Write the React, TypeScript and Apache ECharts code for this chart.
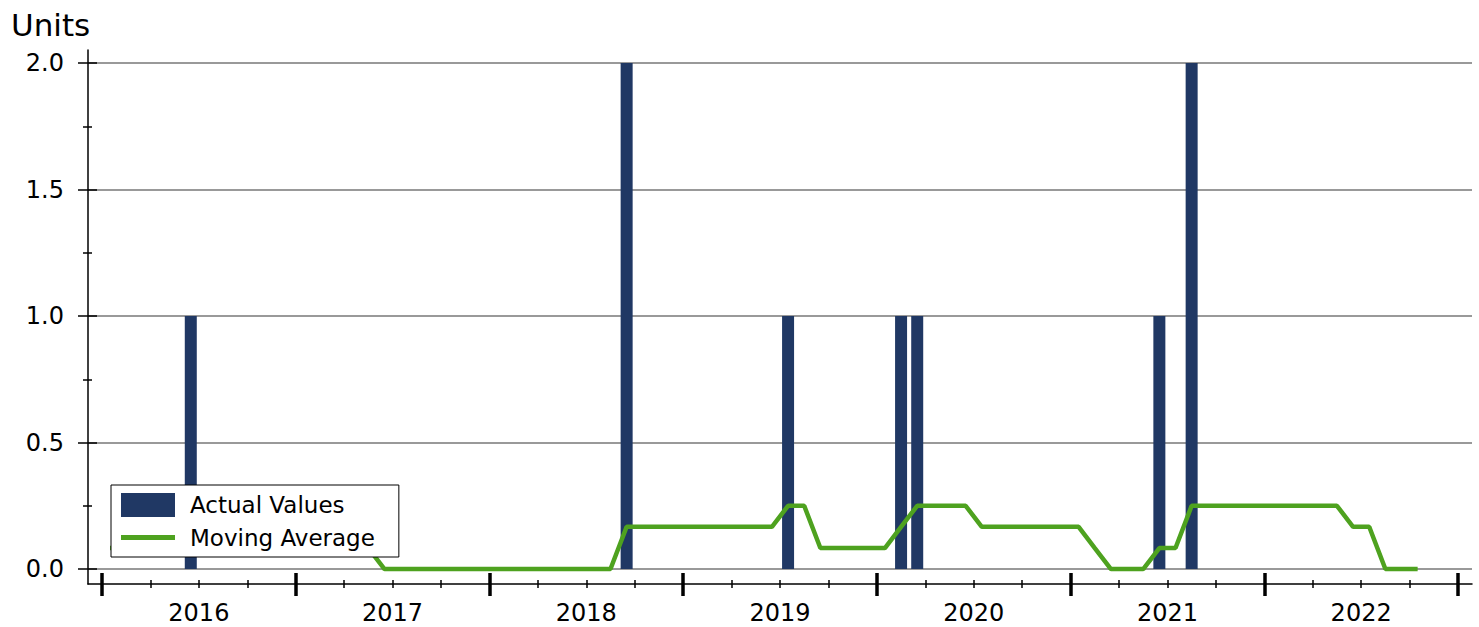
import React, { useEffect, useRef } from "react";
import * as echarts from "echarts";

// Months from Jan 2016 to Oct 2022
const MONTHS: string[] = [
  "2016-01","2016-02","2016-03","2016-04","2016-05","2016-06","2016-07","2016-08","2016-09","2016-10","2016-11","2016-12",
  "2017-01","2017-02","2017-03","2017-04","2017-05","2017-06","2017-07","2017-08","2017-09","2017-10","2017-11","2017-12",
  "2018-01","2018-02","2018-03","2018-04","2018-05","2018-06","2018-07","2018-08","2018-09","2018-10","2018-11","2018-12",
  "2019-01","2019-02","2019-03","2019-04","2019-05","2019-06","2019-07","2019-08","2019-09","2019-10","2019-11","2019-12",
  "2020-01","2020-02","2020-03","2020-04","2020-05","2020-06","2020-07","2020-08","2020-09","2020-10","2020-11","2020-12",
  "2021-01","2021-02","2021-03","2021-04","2021-05","2021-06","2021-07","2021-08","2021-09","2021-10","2021-11","2021-12",
  "2022-01","2022-02","2022-03","2022-04","2022-05","2022-06","2022-07","2022-08","2022-09","2022-10",
];

const ACTUAL: number[] = [
  0,0,0,0,0,1,0,0,0,0,0,0,
  0,0,0,0,0,0,0,0,0,0,0,0,
  0,0,0,0,0,0,0,0,2,0,0,0,
  0,0,0,0,0,0,1,0,0,0,0,0,
  0,1,1,0,0,0,0,0,0,0,0,0,
  0,0,0,0,0,1,0,2,0,0,0,0,
  0,0,0,0,0,0,0,0,0,0,
];

const MOVING_AVG: number[] = [
  0.083,0.083,0.083,0.083,0.083,0.083,0.083,0.083,0.083,0.083,0.083,0.083,
  0.083,0.083,0.083,0.083,0.083,0,0,0,0,0,0,0,
  0,0,0,0,0,0,0,0,0.167,0.167,0.167,0.167,
  0.167,0.167,0.167,0.167,0.167,0.167,0.25,0.25,0.083,0.083,0.083,0.083,
  0.083,0.167,0.25,0.25,0.25,0.25,0.167,0.167,0.167,0.167,0.167,0.167,
  0.167,0.083,0,0,0,0.083,0.083,0.25,0.25,0.25,0.25,0.25,
  0.25,0.25,0.25,0.25,0.25,0.167,0.167,0,0,0,
];

const YEARS: string[] = ["2016", "2017", "2018", "2019", "2020", "2021", "2022"];
const Y_TICKS_MIN = 0;
const Y_TICKS_MAX = 2;

const FONT = "DejaVu Sans";
const BAR_COLOR = "#203864";
const LINE_COLOR = "#4ea21f";

export default function App() {
  const ref = useRef<HTMLDivElement>(null);
  useEffect(() => {
    if (!ref.current) return;
    const chart = echarts.init(ref.current, undefined, { renderer: "svg" });
    const startYear = parseInt(MONTHS[0].slice(0, 4), 10);
    const monthPos = (m: string) =>
      (parseInt(m.slice(0, 4), 10) - startYear) * 12 + parseInt(m.slice(5, 7), 10) - 1 + 0.5;
    const barData = MONTHS.map((m, i) => [monthPos(m), ACTUAL[i]]);
    const lineData = MONTHS.map((m, i) => [monthPos(m), MOVING_AVG[i]]);
    const totalMonths = YEARS.length * 12;

    const hiddenAxis = (gridIndex: number) => ({
      type: "value",
      gridIndex,
      show: false,
      min: 0,
      max: 1,
      axisLine: { show: false, onZero: false },
    });

    const yGrid = { left: 88, right: 7, top: 63, bottom: 58 };
    const xGrid = { left: 102, right: 21, top: 50, bottom: 43 };

    const option: any = {
      animation: false,
      title: {
        text: "Units",
        left: 6,
        top: 4,
        textStyle: { fontFamily: FONT, fontSize: 31, fontWeight: "normal", color: "#000" },
      },
      legend: {
        left: 111,
        top: 485,
        z: 10,
        orient: "vertical",
        backgroundColor: "#fff",
        borderColor: "#000",
        borderWidth: 1,
        borderRadius: 0,
        padding: [8, 24, 8, 10],
        itemWidth: 54,
        itemHeight: 24,
        itemGap: 9,
        textStyle: { fontFamily: FONT, fontSize: 23, color: "#000", padding: [0, 0, 0, 10] },
        data: [
          { name: "Actual Values", icon: "rect", itemStyle: { color: BAR_COLOR } },
          { name: "Moving Average", icon: "path://M0,0H54V5H0Z", itemStyle: { color: LINE_COLOR } },
        ],
      },
      grid: [
        { left: 88, right: 7, top: 50, bottom: 43 },
        yGrid,
        yGrid,
        xGrid,
        xGrid,
        xGrid,
        xGrid,
      ],
      xAxis: [
        {
          type: "value",
          gridIndex: 0,
          min: -0.867,
          max: totalMonths + 0.867,
          axisLine: { show: true, onZero: false, lineStyle: { color: "#000", width: 1.5 } },
          axisTick: { show: false },
          axisLabel: { show: false },
          splitLine: { show: false },
        },
        hiddenAxis(1),
        hiddenAxis(2),
        {
          type: "category",
          gridIndex: 3,
          data: YEARS,
          boundaryGap: true,
          axisLine: { show: false, onZero: false },
          axisTick: { show: true, length: 12, lineStyle: { color: "#000", width: 3.5 } },
          axisLabel: { show: true, fontFamily: FONT, fontSize: 24, color: "#000", margin: 17 },
          splitLine: { show: false },
        },
        {
          type: "category",
          gridIndex: 4,
          data: YEARS,
          boundaryGap: true,
          axisLine: { show: false, onZero: false },
          axisTick: { show: true, inside: true, length: 11, lineStyle: { color: "#000", width: 3.5 } },
          axisLabel: { show: false },
          splitLine: { show: false },
        },
        {
          type: "value",
          gridIndex: 5,
          min: 0,
          max: totalMonths,
          interval: 3,
          axisLine: { show: false, onZero: false },
          axisTick: { show: true, length: 4, lineStyle: { color: "#000", width: 1.5 } },
          axisLabel: { show: false },
          splitLine: { show: false },
        },
        {
          type: "value",
          gridIndex: 6,
          min: 0,
          max: totalMonths,
          interval: 3,
          axisLine: { show: false, onZero: false },
          axisTick: { show: true, inside: true, length: 4, lineStyle: { color: "#000", width: 1.5 } },
          axisLabel: { show: false },
          splitLine: { show: false },
        },
      ],
      yAxis: [
        {
          type: "value",
          gridIndex: 0,
          min: -0.059,
          max: 2.051,
          axisLine: { show: true, onZero: false, lineStyle: { color: "#000", width: 1.5 } },
          axisTick: { show: false },
          axisLabel: { show: false },
          splitLine: { show: false },
        },
        {
          type: "value",
          gridIndex: 1,
          min: Y_TICKS_MIN,
          max: Y_TICKS_MAX,
          interval: 0.5,
          axisLine: { show: false, onZero: false },
          axisTick: { show: true, length: 10, lineStyle: { color: "#000", width: 1.5 } },
          minorTick: { show: true, splitNumber: 2, length: 5, lineStyle: { color: "#000", width: 1.5 } },
          axisLabel: {
            show: true,
            fontFamily: FONT,
            fontSize: 24,
            color: "#000",
            margin: 24,
            formatter: (v: number) => v.toFixed(1),
          },
          splitLine: { show: true, lineStyle: { color: "#777", width: 1.5 } },
        },
        {
          type: "value",
          gridIndex: 2,
          min: Y_TICKS_MIN,
          max: Y_TICKS_MAX,
          interval: 0.5,
          axisLine: { show: false, onZero: false },
          axisTick: { show: true, inside: true, length: 9, lineStyle: { color: "#000", width: 1.5 } },
          minorTick: { show: true, splitNumber: 2, length: 4, lineStyle: { color: "#000", width: 1.5 } },
          axisLabel: { show: false },
          splitLine: { show: false },
        },
        hiddenAxis(3),
        hiddenAxis(4),
        hiddenAxis(5),
        hiddenAxis(6),
      ],
      series: [
        {
          name: "Actual Values",
          type: "bar",
          xAxisIndex: 0,
          yAxisIndex: 0,
          barWidth: 12,
          itemStyle: { color: BAR_COLOR },
          data: barData,
        },
        {
          name: "Moving Average",
          type: "line",
          xAxisIndex: 0,
          yAxisIndex: 0,
          symbol: "none",
          showSymbol: false,
          itemStyle: { color: LINE_COLOR },
          lineStyle: { color: LINE_COLOR, width: 4.5 },
          data: lineData,
        },
      ],
    };
    chart.setOption(option);
    return () => chart.dispose();
  }, []);

  return (
    <div
      ref={ref}
      style={{ position: "fixed", left: 0, top: 0, width: 1479, height: 627, background: "#fff" }}
    />
  );
}
